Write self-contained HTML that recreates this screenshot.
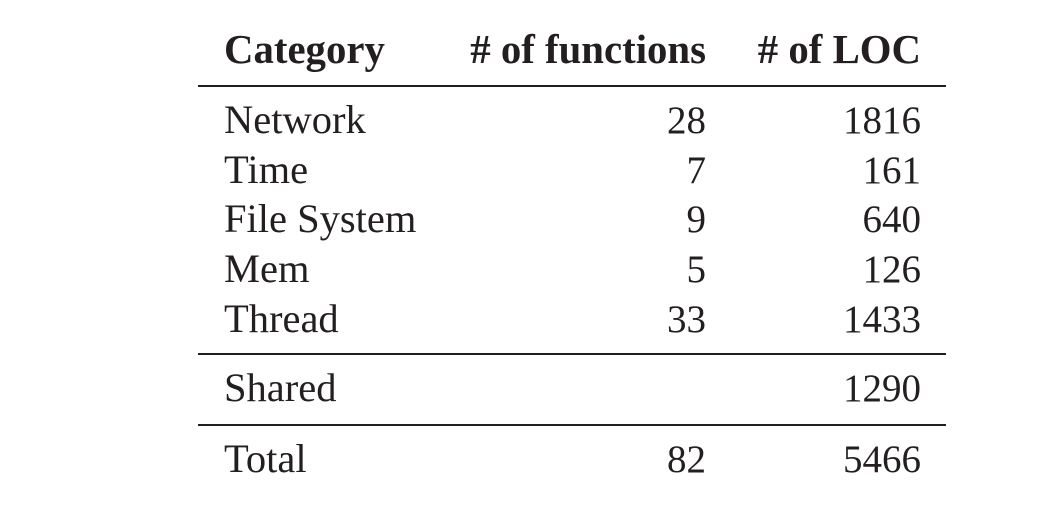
<!DOCTYPE html>
<html>
<head>
<meta charset="utf-8">
<style>
  html,body{margin:0;padding:0;background:#fff;}
  svg{display:block;}
  text{font-family:"Liberation Serif","Times New Roman",serif;font-size:39px;fill:#231f20;}
  .h{font-weight:bold;font-size:40.8px;}
  .l{font-size:40.5px;}
</style>
</head>
<body>
<svg width="1050" height="514" viewBox="0 0 1050 514">
  <g>
    <text class="h" x="224" y="63">Category</text>
    <text class="h" x="706" y="63" text-anchor="end"># of functions</text>
    <text class="h" x="921" y="63" text-anchor="end"># of LOC</text>
  </g>
  <rect x="198" y="85" width="748" height="2" fill="#231f20"/>
  <g>
    <text class="l" x="224" y="133">Network</text><text x="706" y="133" text-anchor="end">28</text><text x="921" y="133" text-anchor="end">1816</text>
  </g>
  <g>
    <text class="l" x="224" y="183">Time</text><text x="706" y="183" text-anchor="end">7</text><text x="921" y="183" text-anchor="end">161</text>
  </g>
  <g>
    <text class="l" x="224" y="232">File System</text><text x="706" y="232" text-anchor="end">9</text><text x="921" y="232" text-anchor="end">640</text>
  </g>
  <g>
    <text class="l" x="224" y="282">Mem</text><text x="706" y="282" text-anchor="end">5</text><text x="921" y="282" text-anchor="end">126</text>
  </g>
  <g>
    <text class="l" x="224" y="332">Thread</text><text x="706" y="332" text-anchor="end">33</text><text x="921" y="332" text-anchor="end">1433</text>
  </g>
  <rect x="198" y="353" width="748" height="2" fill="#231f20"/>
  <g>
    <text class="l" x="224" y="401">Shared</text><text x="921" y="401" text-anchor="end">1290</text>
  </g>
  <rect x="198" y="424" width="748" height="2" fill="#231f20"/>
  <g>
    <text class="l" x="224" y="472">Total</text><text x="706" y="472" text-anchor="end">82</text><text x="921" y="472" text-anchor="end">5466</text>
  </g>
</svg>
</body>
</html>
